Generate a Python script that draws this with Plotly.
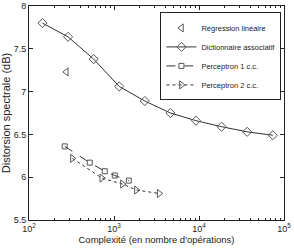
import plotly.graph_objects as go

# Data
reg_x = [275]
reg_y = [7.23]

dict_x = [144, 288, 576, 1152, 2304, 4608, 9216, 18432, 36864, 73728]
dict_y = [7.80, 7.64, 7.38, 7.06, 6.89, 6.75, 6.66, 6.59, 6.53, 6.49]

p1_x = [263, 518, 779, 1021, 1493]
p1_y = [6.36, 6.17, 6.07, 6.02, 5.96]

p2_x = [324, 718, 1257, 1837, 3399]
p2_y = [6.22, 5.99, 5.92, 5.85, 5.81]

x_tickvals = [100, 1000, 10000, 100000]
x_ticktext = ["10<sup>2</sup>", "10<sup>3</sup>", "10<sup>4</sup>", "10<sup>5</sup>"]
y_tickvals = [5.5, 6, 6.5, 7, 7.5, 8]
y_ticktext = ["5.5", "6", "6.5", "7", "7.5", "8"]

mc = "#555555"
lc = "#333333"
ac = "#222222"

fig = go.Figure()
fig.add_trace(go.Scatter(x=reg_x, y=reg_y, mode="markers", name="Régression linéaire",
                         marker=dict(symbol="triangle-left-open", size=7, color=mc, line=dict(width=1))))
fig.add_trace(go.Scatter(x=dict_x, y=dict_y, mode="lines+markers", name="Dictionnaire associatif",
                         line=dict(color=lc, width=1),
                         marker=dict(symbol="diamond-open", size=7, color=mc, line=dict(width=1))))
fig.add_trace(go.Scatter(x=p1_x, y=p1_y, mode="lines+markers", name="Perceptron 1 c.c.",
                         line=dict(color=lc, width=1, dash="dash"),
                         marker=dict(symbol="square-open", size=5, color=mc, line=dict(width=1))))
fig.add_trace(go.Scatter(x=p2_x, y=p2_y, mode="lines+markers", name="Perceptron 2 c.c.",
                         line=dict(color=lc, width=1, dash="dot"),
                         marker=dict(symbol="triangle-right-open", size=7, color=mc, line=dict(width=1))))

fig.update_layout(
    width=294, height=249,
    margin=dict(l=29, r=10, t=6, b=29, autoexpand=False),
    paper_bgcolor="white", plot_bgcolor="white",
    font=dict(family="Liberation Sans, Arial, sans-serif", size=9, color=ac),
    showlegend=True,
    legend=dict(x=0.99, y=0.97, xanchor="right", yanchor="top",
                bgcolor="white", bordercolor=ac, borderwidth=1,
                font=dict(size=7.5), tracegroupgap=0, itemwidth=30),
)
fig.update_xaxes(type="log", range=[2, 5], tickvals=x_tickvals, ticktext=x_ticktext,
                 ticks="inside", ticklen=4, tickcolor=ac, showline=True, linecolor=ac,
                 mirror="ticks", showgrid=False, zeroline=False, automargin=False,
                 ticklabeloverflow="allow",
                 minor=dict(ticks="inside", ticklen=2, dtick="D1", tickcolor=ac, showgrid=False),
                 title=dict(text="Complexité (en nombre d'opérations)", font=dict(size=9.5), standoff=1),
                 tickfont=dict(size=9))
fig.update_yaxes(range=[5.5, 8], tickvals=y_tickvals, ticktext=y_ticktext,
                 ticks="inside", ticklen=4, tickcolor=ac, showline=True, linecolor=ac,
                 mirror="ticks", showgrid=False, zeroline=False, automargin=False,
                 ticklabeloverflow="allow",
                 title=dict(text="Distorsion spectrale (dB)", font=dict(size=11), standoff=2),
                 tickfont=dict(size=9))

fig.write_html("out.html", config={"displayModeBar": False},
               post_script="document.body.style.margin='0';")
